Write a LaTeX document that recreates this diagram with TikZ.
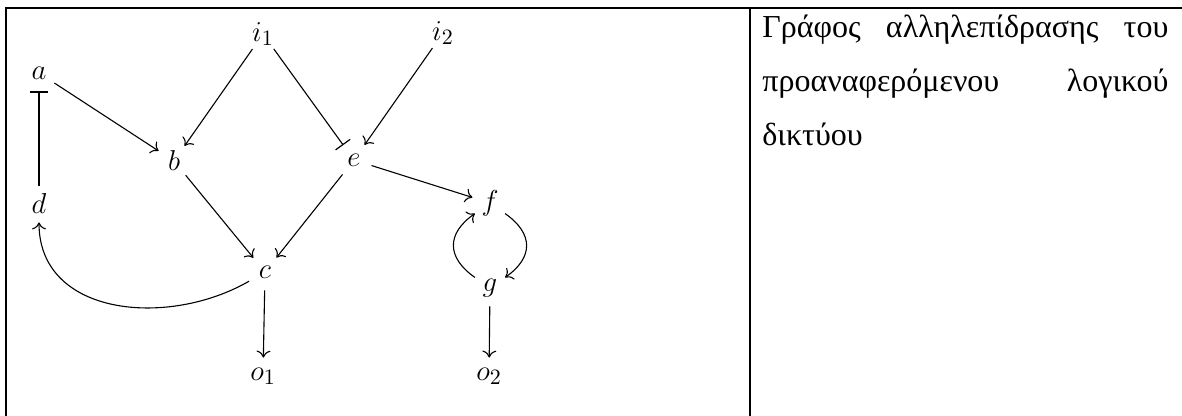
\documentclass[tikz,border=0pt]{standalone}
\usepackage{fontspec}
\newfontfamily\grfont{Liberation Serif}
\usetikzlibrary{arrows.meta}
\begin{document}
\begin{tikzpicture}[x=0.5pt,y=-0.5pt,
  vx/.style={circle,inner sep=0pt,minimum size=18pt,font=\fontsize{15}{17}\selectfont},
  act/.style={line width=0.55pt,-{To[length=3.5pt,width=7pt]}},
  inh/.style={line width=0.55pt,-{Bar[width=9pt,line width=0.6pt]}},
  rule/.style={line width=1.1pt},
  gline/.style={font=\grfont\fontsize{16}{19}\selectfont,anchor=base west,inner sep=0pt}]
\useasboundingbox (0,0) rectangle (1182,416);
% table rules
\draw[rule] (5,8) -- (1182,8);
\draw[rule] (6,8) -- (6,416);
\draw[rule] (750,8) -- (750,416);
% nodes
\node[vx] (i1) at (263,34) {$i_1$};
\node[vx] (i2) at (443,33) {$i_2$};
\node[vx] (a) at (39,73) {$a$};
\node[vx] (b) at (174,161) {$b$};
\node[vx] (e) at (354,160) {$e$};
\node[vx] (d) at (39,204) {$d$};
\node[vx] (f) at (490,203) {$f$};
\node[vx] (c) at (265,272) {$c$};
\node[vx] (g) at (490,288) {$g$};
\node[vx] (o1) at (263,376) {$o_1$};
\node[vx] (o2) at (489,376) {$o_2$};
% edges
\draw[act] (i1) -- (b);
\draw[inh] (i1) -- (e);
\draw[act] (i2) -- (e);
\draw[act] (a) -- (b);
\draw[inh] (d) -- (a);
\draw[act] (b) -- (c);
\draw[act] (e) -- (c);
\draw[act] (e) -- (f);
\draw[act] (c) -- (o1);
\draw[act] (g) -- (o2);
\draw[act] (c) to[out=210,in=270,looseness=1.1] (d);
\draw[act] (f) to[out=-35,in=35,looseness=1.4] (g);
\draw[act] (g) to[out=145,in=215,looseness=1.4] (f);
% text
\node[gline] (t1) at (762,38) {\hbox to 203pt{Γράφος\hfill αλληλεπίδρασης\hfill του}};
\node[gline] (t2) at (762,92) {\hbox to 203pt{προαναφερόμενου\hfill λογικού}};
\node[gline] (t3) at (762,146) {δικτύου};
\end{tikzpicture}
\end{document}
